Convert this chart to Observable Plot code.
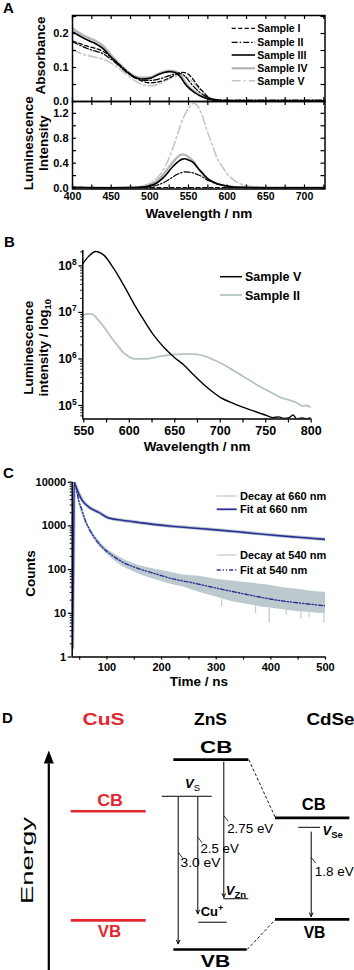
<!DOCTYPE html>
<html><head><meta charset="utf-8">
<script src="https://cdn.jsdelivr.net/npm/d3@7"></script>
<script src="https://cdn.jsdelivr.net/npm/@observablehq/plot@0.6"></script>
<style>
body{margin:0;background:#fff;}
#fig{position:relative;width:354px;height:970px;background:#fff;overflow:hidden;}
</style></head><body><div id="fig"></div>
<script>
// ---------------- DATA ----------------
// Panel A
const sampleNames = ["Sample I","Sample II","Sample III","Sample IV","Sample V"];
const absWl = [400,410,420,430,440,450,460,470,480,490,500,510,520,525,530,535,540,545,550,555,560,565,570,575,580,590,600,620,650,700,727];
const absI   = [0.178,0.170,0.162,0.156,0.147,0.130,0.110,0.090,0.072,0.060,0.055,0.057,0.064,0.069,0.075,0.081,0.086,0.085,0.080,0.068,0.052,0.038,0.026,0.014,0.007,0.003,0.002,0.001,0.001,0.001,0.001];
const absII  = [0.176,0.165,0.155,0.148,0.140,0.124,0.105,0.086,0.070,0.063,0.062,0.065,0.072,0.076,0.080,0.082,0.082,0.075,0.062,0.048,0.036,0.026,0.018,0.012,0.008,0.005,0.004,0.004,0.004,0.004,0.004];
const absIII = [0.205,0.192,0.180,0.170,0.155,0.130,0.108,0.087,0.072,0.066,0.068,0.078,0.086,0.088,0.087,0.083,0.071,0.054,0.041,0.031,0.023,0.017,0.012,0.008,0.005,0.003,0.002,0.001,0.001,0.001,0.001];
const absIV  = [0.215,0.200,0.188,0.178,0.163,0.137,0.112,0.090,0.075,0.070,0.071,0.081,0.089,0.091,0.090,0.087,0.076,0.060,0.045,0.034,0.026,0.018,0.013,0.009,0.006,0.003,0.002,0.001,0.001,0.001,0.001];
const absV   = [0.152,0.142,0.135,0.130,0.124,0.113,0.097,0.079,0.062,0.050,0.046,0.050,0.060,0.066,0.072,0.076,0.077,0.075,0.068,0.058,0.046,0.034,0.023,0.014,0.008,0.005,0.004,0.004,0.004,0.004,0.004];
const lumWl = [400,450,480,490,500,510,520,530,537,542,545,550,557,561,568,574,580,587,595,600,605,615,630,650,700,727];
const lumI   = [0.012,0.004,0.004,0.004,0.005,0.005,0.006,0.006,0.006,0.006,0.006,0.006,0.006,0.006,0.006,0.006,0.006,0.006,0.006,0.006,0.006,0.005,0.005,0.005,0.005,0.005];
const lumII  = [0.010,0.004,0.006,0.010,0.020,0.050,0.100,0.180,0.230,0.250,0.260,0.255,0.240,0.220,0.180,0.130,0.100,0.065,0.042,0.030,0.022,0.012,0.009,0.008,0.008,0.008];
const lumIII = [0.010,0.005,0.008,0.015,0.035,0.090,0.200,0.350,0.430,0.465,0.470,0.450,0.400,0.340,0.240,0.160,0.110,0.070,0.045,0.030,0.022,0.012,0.008,0.006,0.005,0.005];
const lumIV  = [0.010,0.005,0.012,0.025,0.060,0.120,0.260,0.420,0.510,0.540,0.535,0.500,0.420,0.340,0.230,0.150,0.110,0.070,0.045,0.032,0.024,0.014,0.010,0.008,0.008,0.008];
const lumV   = [0.010,0.005,0.010,0.030,0.075,0.170,0.350,0.650,0.910,1.090,1.170,1.280,1.360,1.330,1.160,0.920,0.720,0.480,0.320,0.230,0.165,0.080,0.030,0.015,0.010,0.008];
const aTicksX = [400,450,500,550,600,650,700];
const aMinorX = [400,425,450,475,500,525,550,575,600,625,650,675,700,725];
const absLabels = [0,0.1,0.2];
const absMinor = [0,0.05,0.1,0.15,0.2,0.25];
const lumLabels = [0,0.4,0.8,1.2];
const lumMinor = [0,0.2,0.4,0.6,0.8,1.0,1.2];

// Panel B
const bLegend = ["Sample V","Sample II"];
const bWlV = [549,555,563,572,583,594,605,616,627,638,649,660,671,686,700,715,730,744,752,758,764,770,776,780,784,790,795,800];
const bV   = [1.12e8,1.58e8,2.04e8,1.70e8,8.7e7,3.8e7,1.55e7,6.8e6,3.2e6,1.78e6,1.1e6,7.4e5,4.5e5,2.4e5,1.5e5,1.1e5,8.5e4,6.8e4,6.0e4,5.5e4,5.7e4,5.3e4,5.5e4,6.3e4,5.2e4,5.4e4,5.2e4,5.5e4];
const bWlII = [549,555,560,565,570,576,581,587,592,598,604,610,618,625,635,645,655,664,675,686,693,702,711,720,730,740,748,757,766,775,785,790,795,800];
const bII   = [8.7e6,9.3e6,9.1e6,7.2e6,5.5e6,3.8e6,2.75e6,1.95e6,1.48e6,1.17e6,1.02e6,1.0e6,1.0e6,1.05e6,1.15e6,1.23e6,1.26e6,1.29e6,1.26e6,1.1e6,9.5e5,7.9e5,6.2e5,4.9e5,3.7e5,2.8e5,2.3e5,1.86e5,1.5e5,1.32e5,1.12e5,9.8e4,1.0e5,9.1e4];
const bTicksX = [550,600,650,700,750,800];
const bMinorX = [575,625,675,725,775];
const bTicksY = [1e5,1e6,1e7,1e8];

// Panel C
const cLegend = ["Decay at 660 nm","Fit at 660 nm","Decay at 540 nm","Fit at 540 nm"];
const cT660 = [37,38.5,40,42.5,48.5,55,67,85,103,128,158,189,219,250,300,350,400,450,500];
const cFit660 = [1.6,80,9800,8300,5400,3800,2700,2040,1510,1350,1200,1070,980,910,810,710,620,550,490];
const cDecay660 = [1.6,80,9900,8400,5500,3850,2700,2050,1520,1350,1200,1075,980,915,810,715,625,550,495];
const cT540 = [40,42.5,48.5,54.7,60.7,66.8,79,91,110,128,158,189,219,250,295,356,417,456,500];
const cFit540 = [9800,8300,3800,2240,1320,890,500,330,210,150,105,80,62,52,39,27,19.5,17,14.8];
const cBandT  = [40,45,50,60,70,80,100,120,150,180,210,240,270,300,330,360,390,420,450,480,500];
const cBandHi = [10000,7080,3630,1500,860,560,300,205,135,108,90,75,70,60,55,50,45,39,35.5,31.6,30.2];
const cBandLo = [7940,5250,2750,1200,660,420,225,140,88,63,49,40,30,23.5,18.5,16,13.5,12.2,10.8,10.2,9.8];
const cSpikeT = [310,372,397,428,455,470,497];
const cSpikeTop = [21,15,13,12,10.5,10,9.5];
const cSpikeLow = [14,10,6,9,7.5,8,6];
const cTicksX = [100,200,300,400,500];
const cMinorX = [50,150,250,350,450];
const cTicksY = [1,10,100,1000,10000];

// Panel D (energies in eV relative to ZnS VB)
const dMaterials = ["CuS","ZnS","CdSe"];
const dCB = [2.94,4.04,2.80];
const dVB = [0.62,0.00,0.64];
const dDefectNames = ["V_S","Cu+","V_Zn","V_Se"];
const dDefectE = [3.26,0.58,1.08,2.60];
const dTransLabels = ["3.0 eV","2.5 eV","2.75 eV","1.8 eV"];
const dTransFrom = [3.24,3.24,3.99,2.50];
const dTransTo = [0.12,0.76,1.11,0.70];

// ---------------- RENDER ----------------
const FONT = '"Liberation Sans", Arial, Helvetica, sans-serif';
const fig = document.getElementById("fig");
const STYLE = `background:none;overflow:visible;font-family:${FONT};font-weight:bold;font-size:10.5px;color:#000;`;
function place(svg, top) { svg.style.position = "absolute"; svg.style.left = "0px"; svg.style.top = top + "px"; fig.appendChild(svg); return svg; }
function rows(xs, ys) { return xs.map((x, i) => ({x, y: ys[i]})); }
function richText(svg, map) {
  svg.querySelectorAll("text").forEach(t => {
    if (t.children.length === 0 && map[t.textContent] !== undefined) t.innerHTML = map[t.textContent];
  });
}
function inTicks(xs, ys, innerW, innerH, len) {
  const o = {stroke: "#000", strokeWidth: 1.2};
  return [
    Plot.tickX(xs, {x: d => d, insetTop: innerH - len, ...o}),
    Plot.tickX(xs, {x: d => d, insetBottom: innerH - len, ...o}),
    Plot.tickY(ys, {y: d => d, insetRight: innerW - len, ...o}),
    Plot.tickY(ys, {y: d => d, insetLeft: innerW - len, ...o})
  ];
}
function yTitle(t, dx, dy) { return Plot.text([t], {frameAnchor: "left", dx, dy, rotate: -90, fontSize: 13.5, textAnchor: "middle", lineAnchor: "middle"}); }
function xTitle(t, dy) { return Plot.text([t], {frameAnchor: "bottom", dy, fontSize: 13.5, textAnchor: "middle", lineAnchor: "middle"}); }

// ---- Panel A
const aStyles = [
  {stroke: "#000", strokeWidth: 1.3, strokeDasharray: "4,2.5"},
  {stroke: "#000", strokeWidth: 1.2, strokeDasharray: "6,2,1.5,2"},
  {stroke: "#000", strokeWidth: 1.6},
  {stroke: "#b3b3b3", strokeWidth: 2.2},
  {stroke: "#c6c6c6", strokeWidth: 1.6, strokeDasharray: "9,3,2,3"}
];
const drawOrder = [3, 4, 0, 1, 2];
function aLines(xs, series) {
  return drawOrder.map(k => Plot.line(rows(xs, series[k]), {x: "x", y: "y", curve: "monotone-x", clip: true, ...aStyles[k]}));
}
const aML = 72, aMR = 29.5, aInnerW = 354 - aML - aMR;
const absPlot = Plot.plot({
  width: 354, height: 101, marginTop: 15, marginRight: aMR, marginBottom: 0, marginLeft: aML,
  x: {domain: [400, 726.5], axis: null}, y: {domain: [0, 0.253], label: null},
  style: STYLE,
  marks: [
    ...aLines(absWl, [absI, absII, absIII, absIV, absV]),
    ...inTicks(aMinorX, absMinor, aInnerW, 86, 4),
    Plot.axisY({ticks: absLabels, tickSize: 0, tickPadding: 4, tickFormat: d => d.toFixed(1), label: null, fontSize: 11}),
    Plot.frame({stroke: "#000", strokeWidth: 1.5}),
    yTitle("Absorbance", -32, -3)
  ]
});
place(absPlot, 0);

const lumPlot = Plot.plot({
  width: 354, height: 130, marginTop: 0, marginRight: aMR, marginBottom: 42.5, marginLeft: aML,
  x: {domain: [400, 726.5], label: null}, y: {domain: [-0.015, 1.39], label: null},
  style: STYLE,
  marks: [
    ...aLines(lumWl, [lumI, lumII, lumIII, lumIV, lumV]),
    ...inTicks(aMinorX, lumMinor, aInnerW, 87.5, 4),
    Plot.axisX({ticks: aTicksX, tickSize: 0, tickPadding: 4, label: null, fontSize: 10.5}),
    Plot.axisY({ticks: lumLabels, tickSize: 0, tickPadding: 4, tickFormat: d => d.toFixed(1), label: null, fontSize: 11}),
    Plot.frame({stroke: "#000", strokeWidth: 1.5}),
    yTitle("Luminescence", -44, -2),
    yTitle("Intensity", -29, -2),
    xTitle("Wavelength / nm", 25)
  ]
});
place(lumPlot, 101);

// ---- Panel B
const bXDomain = [548.9, 800], bYDomain = [5.13e4, 2.14e8];
const bMinorY = [1e4, 1e5, 1e6, 1e7, 1e8].flatMap(d => [2,3,4,5,6,7,8,9].map(m => m * d)).filter(v => v > bYDomain[0] && v < bYDomain[1]);
const bPlot = Plot.plot({
  width: 354, height: 215, marginTop: 5, marginRight: 43.3, marginBottom: 41.5, marginLeft: 82.3,
  x: {domain: bXDomain, label: null}, y: {type: "log", domain: bYDomain, label: null},
  style: STYLE,
  marks: [
    Plot.line(rows(bWlII, bII), {x: "x", y: "y", stroke: "#b5c3c5", strokeWidth: 1.8, curve: "monotone-x", clip: true}),
    Plot.line(rows(bWlV, bV), {x: "x", y: "y", stroke: "#000", strokeWidth: 1.4, curve: "monotone-x", clip: true}),
    Plot.ruleX([bXDomain[0]], {stroke: "#000", strokeWidth: 1.5}),
    Plot.ruleY([bYDomain[0]], {stroke: "#000", strokeWidth: 1.5}),
    Plot.axisX({ticks: bTicksX, tickSize: 4, tickPadding: 3, label: null, fontSize: 12.5, strokeWidth: 1.2}),
    Plot.axisX({ticks: bMinorX, tickSize: 4, tickFormat: () => "", label: null, strokeWidth: 1.2}),
    Plot.axisY({ticks: bTicksY, tickSize: 4, tickPadding: 2, tickFormat: d => "10^" + Math.round(Math.log10(d)), label: null, fontSize: 12.5, strokeWidth: 1.2}),
    Plot.axisY({ticks: bMinorY, tickSize: 2, tickFormat: () => "", label: null}),
    yTitle("Luminescence", -54, 13),
    yTitle("intensity / log10", -39, 13),
    xTitle("Wavelength / nm", 28)
  ]
});
richText(bPlot, {
  "10^5": '10<tspan dy="-5" font-size="8.5">5</tspan>',
  "10^6": '10<tspan dy="-5" font-size="8.5">6</tspan>',
  "10^7": '10<tspan dy="-5" font-size="8.5">7</tspan>',
  "10^8": '10<tspan dy="-5" font-size="8.5">8</tspan>',
  "intensity / log10": 'intensity / log<tspan dy="3" font-size="9.5">10</tspan>'
});
place(bPlot, 245);

// ---- Panel C
const BLUE = "#2b2f95", CGRAY = "#bccacf";
const cXDomain = [36.4, 500], cYDomain = [1, 10000];
const cMinorY = [1, 10, 100, 1000].flatMap(d => [2,3,4,5,6,7,8,9].map(m => m * d));
const cPlot = Plot.plot({
  width: 354, height: 225, marginTop: 6.7, marginRight: 29, marginBottom: 43.5, marginLeft: 71.7,
  x: {domain: cXDomain, label: null}, y: {type: "log", domain: cYDomain, label: null},
  style: STYLE,
  marks: [
    Plot.areaY(cBandT.map((t, i) => ({t, lo: cBandLo[i], hi: cBandHi[i]})), {x: "t", y1: "lo", y2: "hi", fill: CGRAY, curve: "monotone-x", clip: true}),
    Plot.ruleX(cSpikeT.map((t, i) => ({t, a: cSpikeLow[i], b: cSpikeTop[i]})), {x: "t", y1: "a", y2: "b", stroke: CGRAY, strokeWidth: 1.2}),
    Plot.line(rows(cT660, cDecay660), {x: "x", y: "y", stroke: CGRAY, strokeWidth: 3.5, curve: "monotone-x", clip: true}),
    Plot.line(rows(cT660, cFit660), {x: "x", y: "y", stroke: BLUE, strokeWidth: 1.6, curve: "monotone-x", clip: true}),
    Plot.line(rows(cT540, cFit540), {x: "x", y: "y", stroke: BLUE, strokeWidth: 1.4, strokeDasharray: "4,2,1.2,2,1.2,2", curve: "monotone-x", clip: true}),
    Plot.ruleX([cXDomain[0]], {stroke: "#000", strokeWidth: 1.5}),
    Plot.ruleY([cYDomain[0]], {stroke: "#000", strokeWidth: 1.5}),
    Plot.axisX({ticks: cTicksX, tickSize: 3, tickPadding: 3, label: null, fontSize: 11, strokeWidth: 1.2}),
    Plot.axisX({ticks: cMinorX, tickSize: 3, tickFormat: () => "", label: null, strokeWidth: 1.2}),
    Plot.axisY({ticks: cTicksY, tickSize: 4, tickPadding: 2, tickFormat: d => String(d), label: null, fontSize: 11, strokeWidth: 1.2}),
    Plot.axisY({ticks: cMinorY, tickSize: 2, tickFormat: () => "", label: null}),
    yTitle("Counts", -42, 4),
    xTitle("Time / ns", 25)
  ]
});
place(cPlot, 475);

// ---- Panel D
const RED = "#e5262e";
const L = {
  colX1: [70.7, 173.3, 275], colX2: [145.7, 248.3, 349.3],
  headX: [103, 210, 330], headE: 4.894, headW: [42, 33, 48],
  cbX: [109.5, 215.7, 313.3], cbE: [3.16, 4.287, 3.074], cbW: [25.7, 32.3, 24],
  vbX: [109, 215, 314], vbE: [0.372, -0.255, 0.362], vbW: [23.3, 29.3, 21.7],
  defX1: [161.7, 198.3, 223.3, 298.3], defX2: [211.7, 226.7, 248.3, 320],
  defLX: [192, 211.5, 235.5, 322], defLE: [3.53, 0.80, 1.255, 2.52], defAnchor: ["middle", "middle", "middle", "start"],
  trX: [177.7, 197.3, 223.3, 310.7], trLX: [180, 200, 226.7, 314.3], trLE: [1.83, 2.14, 2.57, 1.64], trW: [40, 38.3, 46, 39],
  leadE: [2.07, 2.39, 2.85, 1.96],
  energyX: 27.5, energyE: 1.894, energyW: 87, axisX: 48.3, axisE: [-0.45, 3.96]
};
const bandRows = dMaterials.flatMap((m, i) => [
  {m, x1: L.colX1[i], x2: L.colX2[i], E: dCB[i]},
  {m, x1: L.colX1[i], x2: i === 1 ? 246.7 : L.colX2[i], E: dVB[i]}
]);
const connectors = [
  {x1: L.colX2[1], E1: dCB[1], x2: L.colX1[2], E2: dCB[2]},
  {x1: 246.7, E1: dVB[1], x2: L.colX1[2], E2: dVB[2]}
];
const defectRows = dDefectNames.map((n, i) => ({n, x1: L.defX1[i], x2: L.defX2[i], E: dDefectE[i]}));
const transRows = dTransLabels.map((t, i) => ({x: L.trX[i], from: dTransFrom[i], to: dTransTo[i]}));
const leaderRows = dTransLabels.map((t, i) => ({x1: L.trX[i], E1: L.leadE[i], x2: L.trX[i] + 4.3, E2: L.leadE[i] - 0.12}));
const triangle = {draw(ctx) { ctx.moveTo(0, -13); ctx.lineTo(5, 0); ctx.lineTo(-5, 0); ctx.closePath(); }};

const dTexts = [];
dMaterials.forEach((m, i) => dTexts.push({x: L.headX[i], E: L.headE, text: m, color: i === 0 ? RED : "#000", size: 16, weight: "bold", w: L.headW[i]}));
dMaterials.forEach((m, i) => dTexts.push({x: L.cbX[i], E: L.cbE[i], text: "CB", color: i === 0 ? RED : "#000", size: i === 1 ? 17 : 16, weight: "bold", w: L.cbW[i]}));
dMaterials.forEach((m, i) => dTexts.push({x: L.vbX[i], E: L.vbE[i], text: "VB", color: i === 0 ? RED : "#000", size: i === 1 ? 17 : 16, weight: "bold", w: L.vbW[i]}));
dDefectNames.forEach((n, i) => dTexts.push({x: L.defLX[i], E: L.defLE[i], text: n, color: "#000", size: 13, weight: "bold", anchor: L.defAnchor[i]}));
dTransLabels.forEach((t, i) => dTexts.push({x: L.trLX[i], E: L.trLE[i], text: t, color: "#000", size: 12.5, weight: "normal", anchor: "start", w: L.trW[i]}));
dTexts.push({x: L.energyX, E: L.energyE, text: "Energy", color: "#000", size: 16, weight: "normal", rotate: -90, w: L.energyW});

const dPlot = Plot.plot({
  width: 354, height: 270, marginTop: 0, marginRight: 0, marginBottom: 0, marginLeft: 0,
  x: {domain: [0, 354], axis: null}, y: {domain: [-0.447, 5.298], axis: null},
  style: STYLE.replace("font-weight:bold", "font-weight:normal"),
  marks: [
    Plot.link(connectors, {x1: "x1", y1: "E1", x2: "x2", y2: "E2", stroke: "#000", strokeWidth: 0.9, strokeDasharray: "3,2"}),
    Plot.ruleY(bandRows.filter(d => d.m === "CuS"), {y: "E", x1: "x1", x2: "x2", stroke: RED, strokeWidth: 2.6}),
    Plot.ruleY(bandRows.filter(d => d.m !== "CuS"), {y: "E", x1: "x1", x2: "x2", stroke: "#000", strokeWidth: 2.6}),
    Plot.ruleY(defectRows, {y: "E", x1: "x1", x2: "x2", stroke: "#000", strokeWidth: 1}),
    Plot.arrow(transRows, {x1: "x", y1: "from", x2: "x", y2: "to", stroke: "#000", strokeWidth: 1, headLength: 6, headAngle: 50}),
    Plot.link(leaderRows, {x1: "x1", y1: "E1", x2: "x2", y2: "E2", stroke: "#000", strokeWidth: 0.8}),
    Plot.link([{x: L.axisX, a: L.axisE[0], b: L.axisE[1]}], {x1: "x", x2: "x", y1: "a", y2: "b", stroke: "#000", strokeWidth: 2.2}),
    Plot.dot([{x: L.axisX, E: L.axisE[1]}], {x: "x", y: "E", symbol: triangle, fill: "#000", r: 3}),
    ...dTexts.map(t => Plot.text([t], {x: "x", y: "E", text: "text", fill: t.color, fontSize: t.size, fontWeight: t.weight, textAnchor: t.anchor || "middle", lineAnchor: "middle", rotate: t.rotate || 0}))
  ]
});
const groups = dPlot.querySelectorAll('g[aria-label="text"]');
groups.forEach((g, k) => {
  const t = dTexts[k];
  const el = g.querySelector("text");
  if (el && t && t.w) { el.setAttribute("textLength", t.w); el.setAttribute("lengthAdjust", "spacingAndGlyphs"); }
});
richText(dPlot, {
  "V_S": '<tspan font-style="italic">V</tspan><tspan dy="3" font-size="9.5" font-weight="normal">S</tspan>',
  "V_Zn": '<tspan font-style="italic">V</tspan><tspan dy="3" font-size="9.5">Zn</tspan>',
  "V_Se": '<tspan font-style="italic">V</tspan><tspan dy="3" font-size="9.5">Se</tspan>',
  "Cu+": 'Cu<tspan dy="-5" font-size="9">+</tspan>'
});
place(dPlot, 700);

// ---- Overlay: panel letters and legends
const ov = d3.create("svg").attr("width", 354).attr("height", 970)
  .style("position", "absolute").style("left", "0px").style("top", "0px")
  .style("font-family", FONT).style("font-weight", "bold");
[["A", 3, 13.3], ["B", 4, 246.7], ["C", 3, 478.3], ["D", 2, 723.3]].forEach(([t, x, y]) =>
  ov.append("text").attr("x", x).attr("y", y).attr("font-size", 15).text(t));
const aLegY = [28.3, 42.3, 55, 68.3, 80.7];
sampleNames.forEach((n, i) => {
  const s = aStyles[i];
  ov.append("line").attr("x1", 231.7).attr("x2", 255).attr("y1", aLegY[i]).attr("y2", aLegY[i])
    .attr("stroke", s.stroke).attr("stroke-width", s.strokeWidth).attr("stroke-dasharray", s.strokeDasharray || null);
  ov.append("text").attr("x", 257.3).attr("y", aLegY[i] + 3.8).attr("font-size", 10.5).text(n);
});
const bLegY = [276.7, 295], bLegStyle = [["#000", 1.5], ["#b5c3c5", 1.8]];
bLegend.forEach((n, i) => {
  ov.append("line").attr("x1", 220).attr("x2", 242).attr("y1", bLegY[i]).attr("y2", bLegY[i])
    .attr("stroke", bLegStyle[i][0]).attr("stroke-width", bLegStyle[i][1]);
  ov.append("text").attr("x", 245).attr("y", bLegY[i] + 4.5).attr("font-size", 12.5).text(n);
});
const cLegY = [496, 509.3, 555, 570];
const cLegStyle = [[CGRAY, 1.2, null], [BLUE, 1.8, null], [CGRAY, 1.2, null], [BLUE, 1.5, "4,2,1.2,2,1.2,2"]];
cLegend.forEach((n, i) => {
  ov.append("line").attr("x1", 216.7).attr("x2", 236.7).attr("y1", cLegY[i]).attr("y2", cLegY[i])
    .attr("stroke", cLegStyle[i][0]).attr("stroke-width", cLegStyle[i][1]).attr("stroke-dasharray", cLegStyle[i][2]);
  ov.append("text").attr("x", 240).attr("y", cLegY[i] + 4).attr("font-size", 11).text(n);
});
fig.appendChild(ov.node());
</script></body></html>
